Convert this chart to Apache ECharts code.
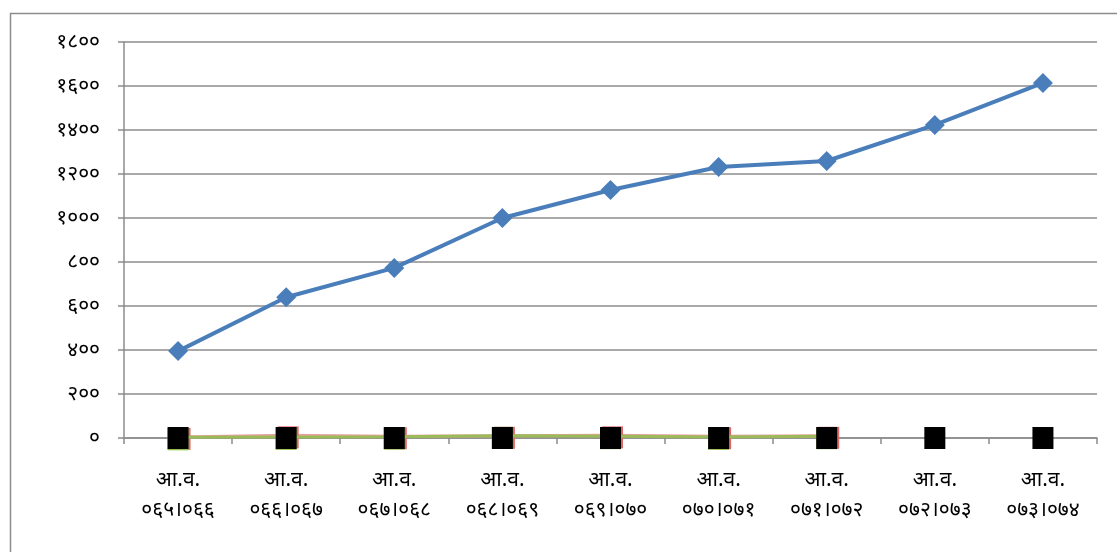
<!DOCTYPE html>
<html>
<head>
<meta charset="utf-8">
<script src="https://cdn.jsdelivr.net/npm/echarts@6/dist/echarts.min.js"></script>
<style>
html,body{margin:0;padding:0;background:#fff;}
#c{width:1117px;height:552px;}
</style>
</head>
<body>
<div id="c"></div>
<script>
var categories = ['आ.व.\n०६५।०६६','आ.व.\n०६६।०६७','आ.व.\n०६७।०६८','आ.व.\n०६८।०६९','आ.व.\n०६९।०७०','आ.व.\n०७०।०७१','आ.व.\n०७१।०७२','आ.व.\n०७२।०७३','आ.व.\n०७३।०७४'];
var blueSeries = [395, 640, 773, 1000, 1127, 1232, 1259, 1423, 1614];
var redSeries = [5, 12, 8, 10, 12, 8, 10, null, null];
var greenSeries = [3, 5, 6, 10, 8, 5, 8, null, null];
var blackSeries = [0, 0, 0, 0, 0, 0, 0, 0, 0];
var devDigits = ['०','१','२','३','४','५','६','७','८','९'];

function toDev(v){ return String(v).replace(/[0-9]/g, function(d){ return devDigits[+d]; }); }

var font = '"Noto Sans", "DejaVu Sans", sans-serif';
var chart = echarts.init(document.getElementById('c'));
chart.setOption({
  animation: false,
  backgroundColor: '#fff',
  graphic: [{
    type: 'rect', left: 8, top: 11, shape: {width: 1200, height: 600},
    style: {fill: 'none', stroke: '#8c8c8c', lineWidth: 1.5}, silent: true
  }],
  grid: {left: 124, top: 42, right: 20, bottom: 114, containLabel: false},
  xAxis: {
    type: 'category', data: categories, boundaryGap: true,
    axisLine: {lineStyle: {color: '#8c8c8c', width: 1.5}},
    axisTick: {show: true, length: 6, lineStyle: {color: '#8c8c8c', width: 1.5}},
    axisLabel: {color: '#000', fontFamily: font, fontSize: 21, lineHeight: 30, margin: 27, interval: 0}
  },
  yAxis: {
    type: 'value', min: 0, max: 1800, interval: 200,
    axisLine: {show: true, lineStyle: {color: '#8c8c8c', width: 1.5}},
    axisTick: {show: true, length: 6, lineStyle: {color: '#8c8c8c', width: 1.5}},
    splitLine: {lineStyle: {color: '#8c8c8c', width: 1.5}},
    axisLabel: {color: '#000', fontFamily: font, fontSize: 21, margin: 24, formatter: function(v){ return toDev(v); }}
  },
  series: [
    {type: 'line', data: redSeries, symbol: 'rect', symbolSize: [21, 22], symbolOffset: [2, 2], itemStyle: {color: '#e06666'}, lineStyle: {color: '#e8a0a0', width: 3}, z: 2},
    {type: 'line', data: greenSeries, symbol: 'rect', symbolSize: [21, 22], symbolOffset: [0, 2], itemStyle: {color: '#92c050'}, lineStyle: {color: '#9bbb59', width: 3}, z: 3},
    {type: 'line', data: blackSeries, symbol: 'rect', symbolSize: [21, 22], itemStyle: {color: '#000'}, lineStyle: {width: 0, opacity: 0}, z: 4},
    {type: 'line', data: blueSeries, symbol: 'diamond', symbolSize: 20, itemStyle: {color: '#4a7ebb'}, lineStyle: {color: '#4a7ebb', width: 4}, z: 5}
  ]
});
</script>
</body>
</html>
